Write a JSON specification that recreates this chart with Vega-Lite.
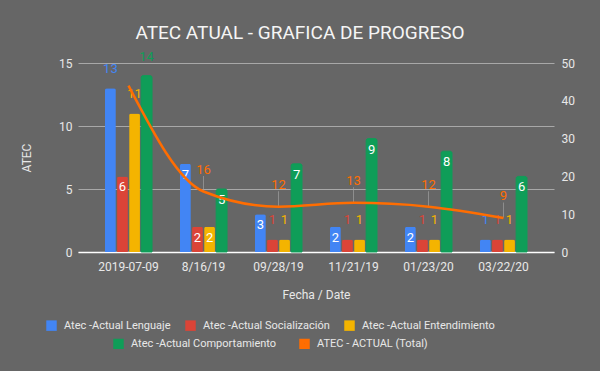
{
  "$schema": "https://vega.github.io/schema/vega-lite/v6.json",
  "width": 476,
  "height": 189,
  "autosize": "none",
  "padding": {"left": 78, "top": 63, "right": 46, "bottom": 119},
  "background": "#666666",
  "title": {"text": "ATEC ATUAL - GRAFICA DE PROGRESO", "color": "#f5f5f5", "fontSize": 19, "font": "Roboto", "fontWeight": "normal", "anchor": "middle", "frame": "group", "offset": 8, "dx": -16},
  "config": {
    "view": {"stroke": null},
    "font": "Roboto",
    "axis": {"labelColor": "#e8e8e8", "titleColor": "#e8e8e8", "labelFont": "Roboto", "titleFont": "Roboto", "labelFontSize": 12, "titleFontSize": 12, "titleFontWeight": "normal", "ticks": false, "domain": false},
    "legend": {"labelColor": "#e8e8e8", "labelFont": "Roboto", "labelFontSize": 11, "symbolSize": 110, "symbolType": "square", "labelOffset": 7, "columnPadding": 14, "padding": 0, "title": null, "labelLimit": 400}
  },
  "datasets": {
    "bars": [
      {"date": "2019-07-09", "series": "Atec -Actual Lenguaje", "value": 13},
      {"date": "2019-07-09", "series": "Atec -Actual Socialización", "value": 6},
      {"date": "2019-07-09", "series": "Atec -Actual Entendimiento", "value": 11},
      {"date": "2019-07-09", "series": "Atec -Actual Comportamiento", "value": 14},
      {"date": "8/16/19", "series": "Atec -Actual Lenguaje", "value": 7},
      {"date": "8/16/19", "series": "Atec -Actual Socialización", "value": 2},
      {"date": "8/16/19", "series": "Atec -Actual Entendimiento", "value": 2},
      {"date": "8/16/19", "series": "Atec -Actual Comportamiento", "value": 5},
      {"date": "09/28/19", "series": "Atec -Actual Lenguaje", "value": 3},
      {"date": "09/28/19", "series": "Atec -Actual Socialización", "value": 1},
      {"date": "09/28/19", "series": "Atec -Actual Entendimiento", "value": 1},
      {"date": "09/28/19", "series": "Atec -Actual Comportamiento", "value": 7},
      {"date": "11/21/19", "series": "Atec -Actual Lenguaje", "value": 2},
      {"date": "11/21/19", "series": "Atec -Actual Socialización", "value": 1},
      {"date": "11/21/19", "series": "Atec -Actual Entendimiento", "value": 1},
      {"date": "11/21/19", "series": "Atec -Actual Comportamiento", "value": 9},
      {"date": "01/23/20", "series": "Atec -Actual Lenguaje", "value": 2},
      {"date": "01/23/20", "series": "Atec -Actual Socialización", "value": 1},
      {"date": "01/23/20", "series": "Atec -Actual Entendimiento", "value": 1},
      {"date": "01/23/20", "series": "Atec -Actual Comportamiento", "value": 8},
      {"date": "03/22/20", "series": "Atec -Actual Lenguaje", "value": 1},
      {"date": "03/22/20", "series": "Atec -Actual Socialización", "value": 1},
      {"date": "03/22/20", "series": "Atec -Actual Entendimiento", "value": 1},
      {"date": "03/22/20", "series": "Atec -Actual Comportamiento", "value": 6}
    ],
    "total": [
      {"date": "2019-07-09", "total": 44},
      {"date": "8/16/19", "total": 16},
      {"date": "09/28/19", "total": 12},
      {"date": "11/21/19", "total": 13},
      {"date": "01/23/20", "total": 12},
      {"date": "03/22/20", "total": 9}
    ]
  },
  "encoding": {
    "x": {"field": "date", "type": "nominal", "title": "Fecha / Date",
      "scale": {"domain": ["2019-07-09", "8/16/19", "09/28/19", "11/21/19", "01/23/20", "03/22/20"], "paddingInner": 0.373, "paddingOuter": 0.36},
      "axis": {"labelAngle": 0, "domain": true, "domainColor": "#ffffff", "domainWidth": 1.5, "labelPadding": 9, "titlePadding": 17}}
  },
  "layer": [
    {
      "data": {"name": "bars"},
      "encoding": {
        "xOffset": {"field": "series", "type": "nominal", "scale": {"domain": ["Atec -Actual Lenguaje", "Atec -Actual Socialización", "Atec -Actual Entendimiento", "Atec -Actual Comportamiento"], "paddingInner": 0.1}},
        "y": {"field": "value", "type": "quantitative", "title": "ATEC", "scale": {"domain": [0, 15]},
          "axis": {"values": [0, 5, 10, 15], "grid": true, "gridColor": "#a8a8a8", "gridWidth": 1, "labelPadding": 6, "titlePadding": 25}}
      },
      "layer": [
        {
          "transform": [{"filter": "datum.series !== 'Atec -Actual Comportamiento'"}],
          "mark": {"type": "bar", "cornerRadiusTopLeft": 2, "cornerRadiusTopRight": 2},
          "encoding": {
            "color": {"field": "series", "type": "nominal",
              "scale": {"domain": ["Atec -Actual Lenguaje", "Atec -Actual Socialización", "Atec -Actual Entendimiento"], "range": ["#4285F4", "#DB4437", "#F4B400"]},
              "legend": {"orient": "none", "direction": "horizontal", "legendX": -32, "legendY": 257, "columns": 3, "symbolType": "square", "symbolStrokeWidth": 0}}
          }
        },
        {
          "transform": [{"filter": "datum.series === 'Atec -Actual Comportamiento'"}],
          "mark": {"type": "bar", "cornerRadiusTopLeft": 2, "cornerRadiusTopRight": 2, "fill": "#0F9D58"},
          "encoding": {"opacity": {"value": 1}}
        },
        {
          "transform": [{"filter": "datum.series === 'Atec -Actual Comportamiento'"}],
          "mark": {"type": "bar", "cornerRadiusTopLeft": 2, "cornerRadiusTopRight": 2, "filled": false},
          "encoding": {
            "stroke": {"field": "series", "type": "nominal",
              "scale": {"domain": ["Atec -Actual Comportamiento", "ATEC - ACTUAL (Total)"], "range": ["#0F9D58", "#FF6D01"]},
              "legend": {"orient": "none", "direction": "horizontal", "legendX": 35, "legendY": 275, "columns": 2, "symbolType": "square", "symbolSize": 30, "symbolStrokeWidth": 5, "symbolOffset": 0}}
          }
        },
        {
          "transform": [{"filter": "datum.value >= 2 && datum.value <= 10"}],
          "mark": {"type": "text", "baseline": "top", "dy": 5, "color": "#ffffff", "fontSize": 13, "font": "Roboto"},
          "encoding": {"text": {"field": "value", "type": "quantitative"}}
        },
        {
          "transform": [{"filter": "datum.value < 2 || datum.value > 10"}],
          "mark": {"type": "text", "baseline": "bottom", "dy": -12, "fontSize": 13, "font": "Roboto"},
          "encoding": {
            "text": {"field": "value", "type": "quantitative"},
            "color": {"condition": [
              {"test": "datum.series === 'Atec -Actual Lenguaje'", "value": "#4285F4"},
              {"test": "datum.series === 'Atec -Actual Socialización'", "value": "#DB4437"},
              {"test": "datum.series === 'Atec -Actual Entendimiento'", "value": "#F4B400"}
            ], "value": "#0F9D58"}
          }
        }
      ]
    },
    {
      "data": {"name": "total"},
      "encoding": {
        "y": {"field": "total", "type": "quantitative", "title": null, "scale": {"domain": [0, 50]},
          "axis": {"orient": "right", "values": [0, 10, 20, 30, 40, 50], "grid": false, "labelPadding": 7}}
      },
      "layer": [
        {
          "transform": [{"filter": "datum.date !== '2019-07-09'"}],
          "mark": {"type": "tick", "orient": "vertical", "size": 15, "thickness": 1, "yOffset": -8, "color": "#a0a0a0"},
          "encoding": {}
        },
        {
          "mark": {"type": "line", "interpolate": "monotone", "strokeWidth": 2.5},
          "encoding": {"stroke": {"datum": "ATEC - ACTUAL (Total)"}}
        },
        {
          "transform": [{"filter": "datum.date !== '2019-07-09'"}],
          "mark": {"type": "text", "baseline": "bottom", "dy": -15, "fontSize": 13, "font": "Roboto", "color": "#FF6D01"},
          "encoding": {"text": {"field": "total", "type": "quantitative"}}
        }
      ]
    }
  ],
  "resolve": {"scale": {"y": "independent"}}
}
